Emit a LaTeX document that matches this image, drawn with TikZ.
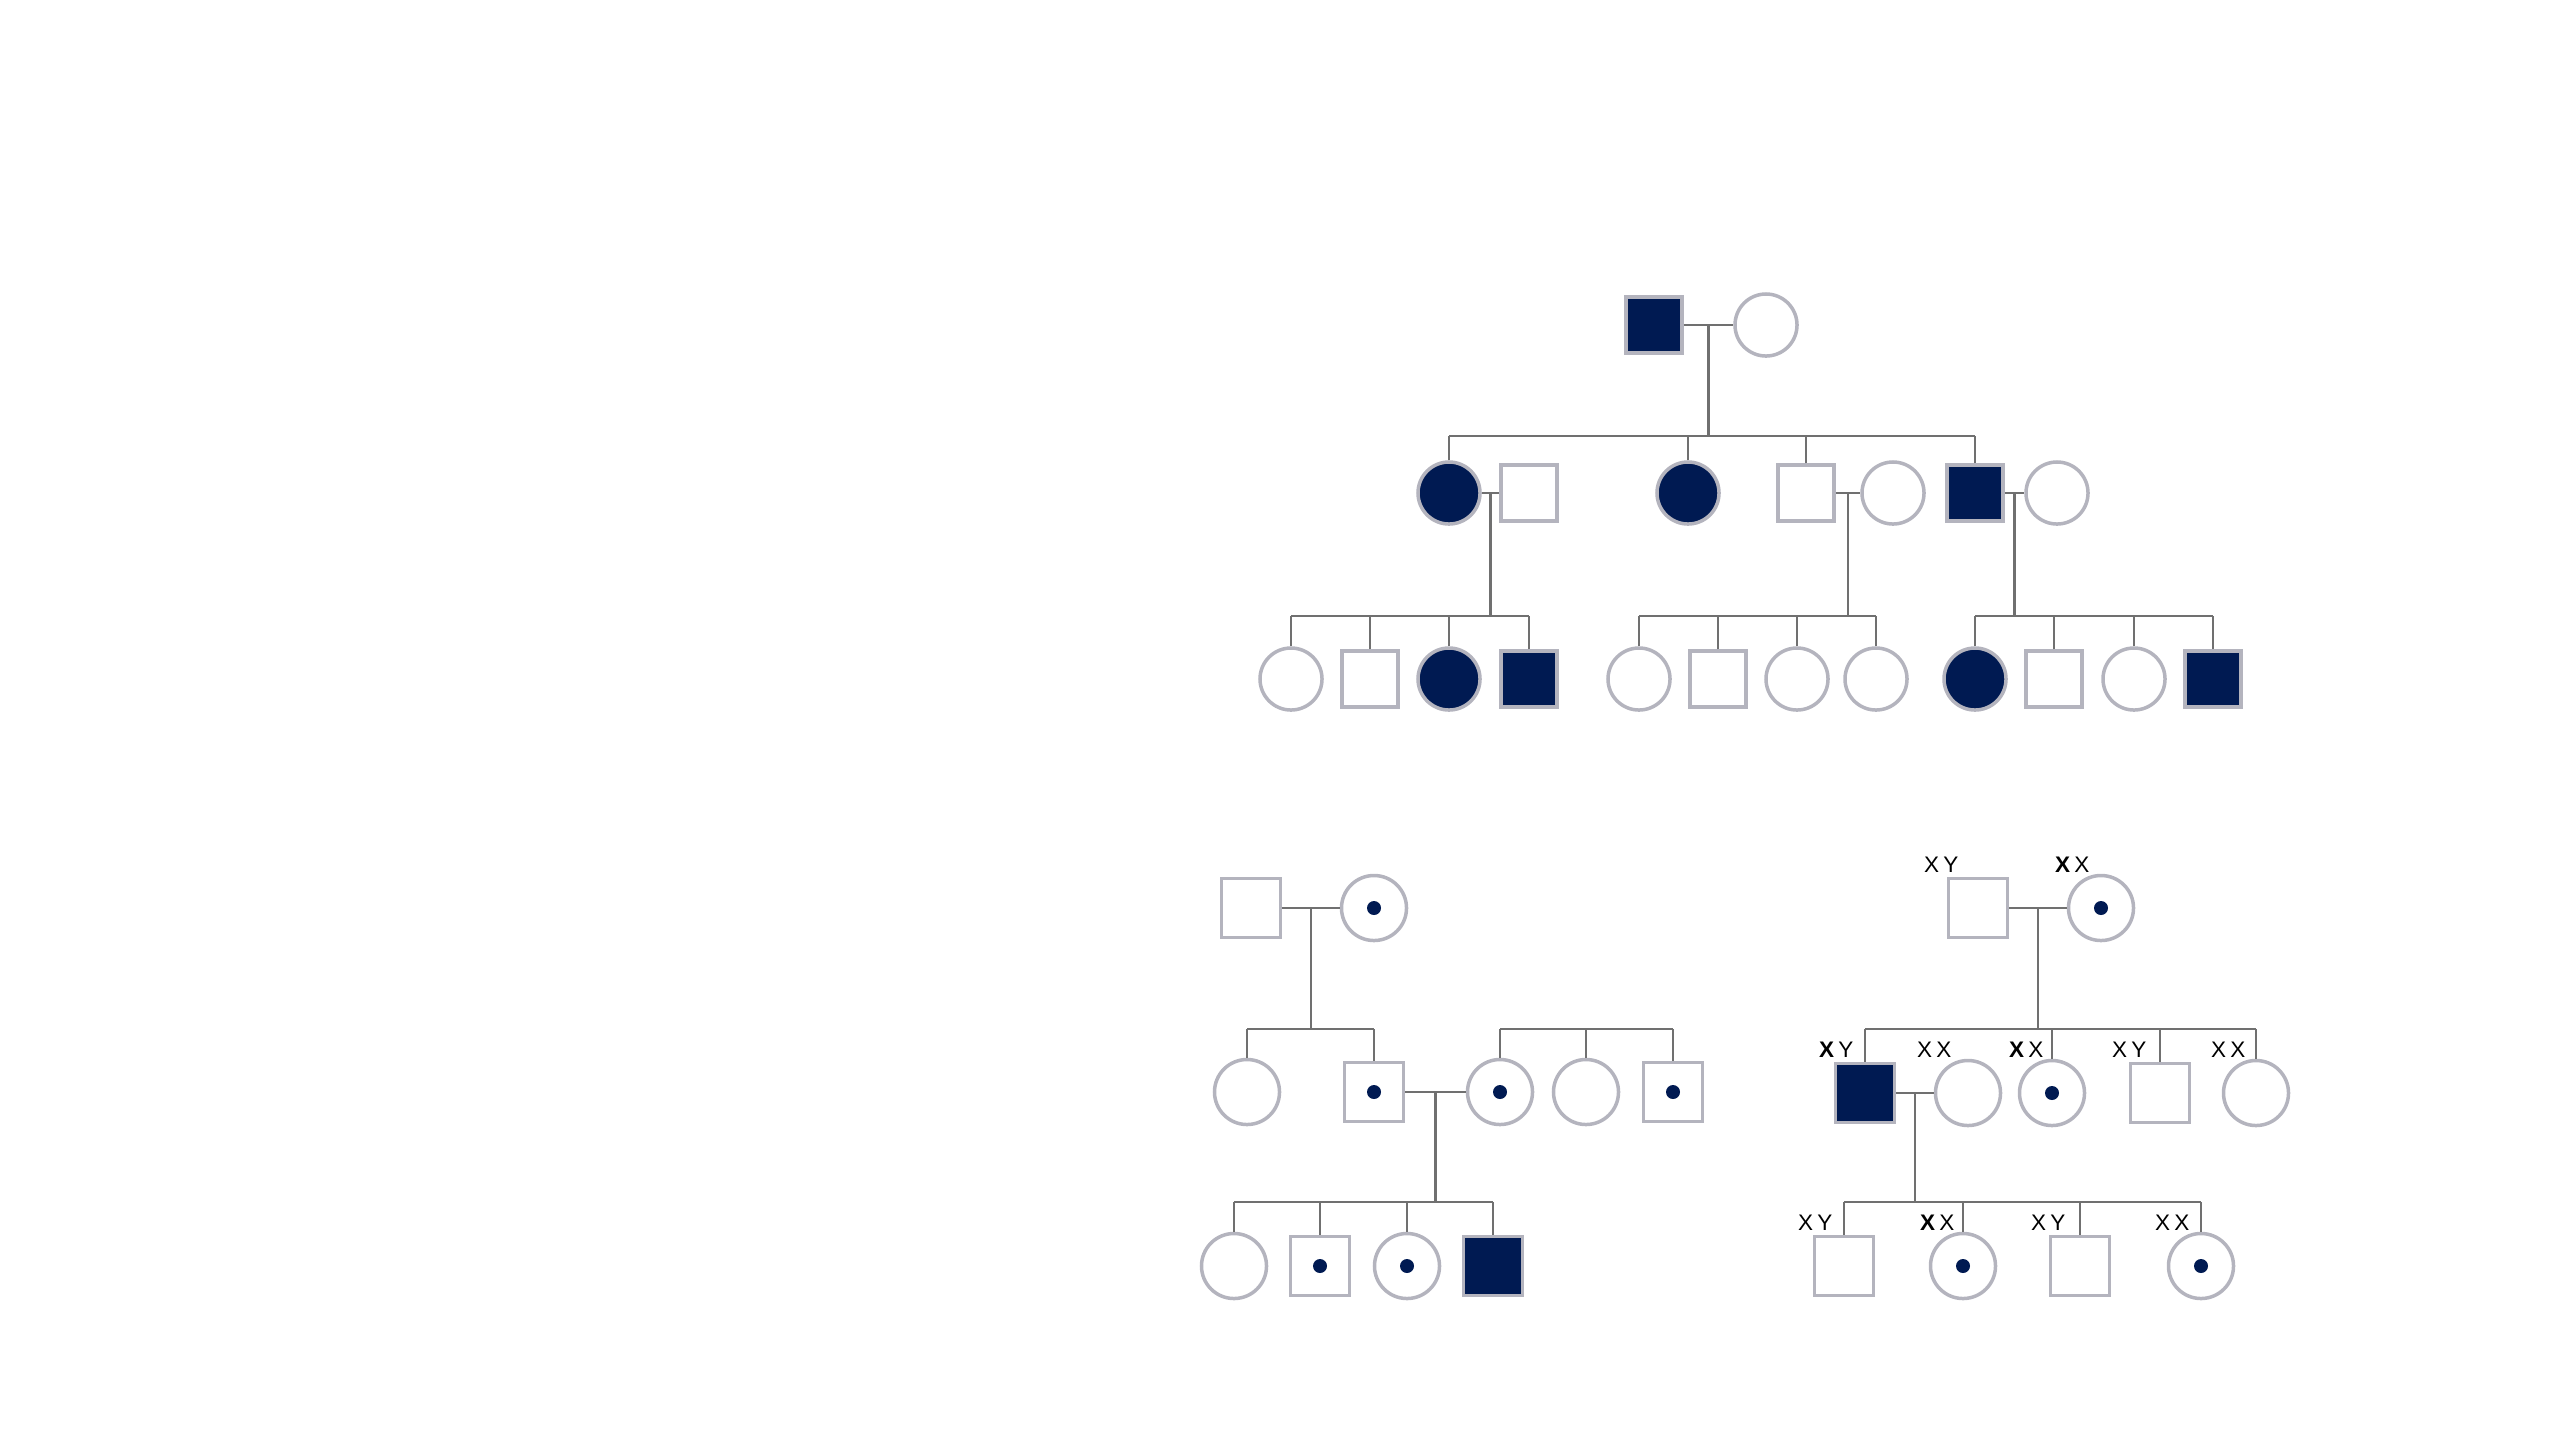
\documentclass[tikz,border=0pt]{standalone}
\usepackage{fontspec}
\setmainfont{Liberation Sans}
\usetikzlibrary{calc}
\definecolor{navy}{RGB}{0,26,82}
\definecolor{outl}{RGB}{180,180,190}
\definecolor{conn}{RGB}{112,112,112}
\begin{document}
\begin{tikzpicture}[x=0.01cm,y=-0.01cm,
 sq/.style={rectangle,draw=outl,line width=0.035cm,fill=white,minimum size=0.56cm,inner sep=0pt},
 ci/.style={circle,draw=outl,line width=0.035cm,fill=white,minimum size=0.62cm,inner sep=0pt},
 bsq/.style={sq,minimum size=0.59cm},
 bci/.style={ci,minimum size=0.65cm},
 aff/.style={fill=navy},
 dotmark/.style={circle,fill=navy,draw=none,inner sep=0pt,minimum size=0.14cm},
 ln/.style={draw=conn,line width=0.6pt},
 gt/.style={anchor=base east,inner sep=0pt,font=\fontsize{6.4}{7}\selectfont}
]
\useasboundingbox (0,0) rectangle (2560,1441);

% ===== Top pedigree =====
\node[sq,aff] (A1) at (1654,325) {};
\node[ci] (A2) at (1766,325) {};
\node[ci,aff] (B1) at (1449,493) {};
\node[sq] (B2) at (1529,493) {};
\node[ci,aff] (B3) at (1688,493) {};
\node[sq] (B4) at (1806,493) {};
\node[ci] (B5) at (1893,493) {};
\node[sq,aff] (B6) at (1975,493) {};
\node[ci] (B7) at (2057,493) {};
\node[ci] (C1) at (1291,679) {};
\node[sq] (C2) at (1370,679) {};
\node[ci,aff] (C3) at (1449,679) {};
\node[sq,aff] (C4) at (1529,679) {};
\node[ci] (C5) at (1639,679) {};
\node[sq] (C6) at (1718,679) {};
\node[ci] (C7) at (1797,679) {};
\node[ci] (C8) at (1876,679) {};
\node[ci,aff] (C9) at (1975,679) {};
\node[sq] (C10) at (2054,679) {};
\node[ci] (C11) at (2134,679) {};
\node[sq,aff] (C12) at (2213,679) {};

\coordinate (yA) at (0,436);
\coordinate (yB) at (0,616);
\draw[ln] (A1.east) -- (A2.west);
\coordinate (mA) at ($(A1.east)!0.5!(A2.west)$);
\draw[ln] (mA) -- (mA |- yA);
\draw[ln] (B1.north |- yA) -- (B6.north |- yA);
\foreach \n in {B1,B3,B4,B6} \draw[ln] (\n.north) -- (\n.north |- yA);

\draw[ln] (B1.east) -- (B2.west);
\coordinate (mB1) at ($(B1.east)!0.5!(B2.west)$);
\draw[ln] (mB1) -- (mB1 |- yB);
\draw[ln] (C1.north |- yB) -- (C4.north |- yB);
\foreach \n in {C1,C2,C3,C4} \draw[ln] (\n.north) -- (\n.north |- yB);

\draw[ln] (B4.east) -- (B5.west);
\coordinate (mB2) at ($(B4.east)!0.5!(B5.west)$);
\draw[ln] (mB2) -- (mB2 |- yB);
\draw[ln] (C5.north |- yB) -- (C8.north |- yB);
\foreach \n in {C5,C6,C7,C8} \draw[ln] (\n.north) -- (\n.north |- yB);

\draw[ln] (B6.east) -- (B7.west);
\coordinate (mB3) at ($(B6.east)!0.5!(B7.west)$);
\draw[ln] (mB3) -- (mB3 |- yB);
\draw[ln] (C9.north |- yB) -- (C12.north |- yB);
\foreach \n in {C9,C10,C11,C12} \draw[ln] (\n.north) -- (\n.north |- yB);

% ===== Bottom-left pedigree =====
\node[bsq] (D1) at (1251,908) {};
\node[bci] (D2) at (1374,908) {};
\node[bci] (E1) at (1247,1092) {};
\node[bsq] (E2) at (1374,1092) {};
\node[bci] (E3) at (1500,1092) {};
\node[bci] (E4) at (1586,1092) {};
\node[bsq] (E5) at (1673,1092) {};
\node[bci] (F1) at (1234,1266) {};
\node[bsq] (F2) at (1320,1266) {};
\node[bci] (F3) at (1407,1266) {};
\node[bsq,aff] (F4) at (1493,1266) {};
\node[dotmark] (dD2) at (D2.center) {};
\node[dotmark] (dE2) at (E2.center) {};
\node[dotmark] (dE3) at (E3.center) {};
\node[dotmark] (dE5) at (E5.center) {};
\node[dotmark] (dF2) at (F2.center) {};
\node[dotmark] (dF3) at (F3.center) {};

\coordinate (yD) at (0,1029);
\coordinate (yE) at (0,1202);
\draw[ln] (D1.east) -- (D2.west);
\coordinate (mD) at ($(D1.east)!0.5!(D2.west)$);
\draw[ln] (mD) -- (mD |- yD);
\draw[ln] (E1.north |- yD) -- (E2.north |- yD);
\foreach \n in {E1,E2} \draw[ln] (\n.north) -- (\n.north |- yD);
\draw[ln] (E3.north |- yD) -- (E5.north |- yD);
\foreach \n in {E3,E4,E5} \draw[ln] (\n.north) -- (\n.north |- yD);
\draw[ln] (E2.east) -- (E3.west);
\coordinate (mE) at ($(E2.east)!0.5!(E3.west)$);
\draw[ln] (mE) -- (mE |- yE);
\draw[ln] (F1.north |- yE) -- (F4.north |- yE);
\foreach \n in {F1,F2,F3,F4} \draw[ln] (\n.north) -- (\n.north |- yE);

% ===== Bottom-right pedigree =====
\node[bsq] (G1) at (1978,908) {};
\node[bci] (G2) at (2101,908) {};
\node[bsq,aff] (H1) at (1865,1093) {};
\node[bci] (H2) at (1968,1093) {};
\node[bci] (H3) at (2052,1093) {};
\node[bsq] (H4) at (2160,1093) {};
\node[bci] (H5) at (2256,1093) {};
\node[bsq] (I1) at (1844,1266) {};
\node[bci] (I2) at (1963,1266) {};
\node[bsq] (I3) at (2080,1266) {};
\node[bci] (I4) at (2201,1266) {};
\node[dotmark] (dG2) at (G2.center) {};
\node[dotmark] (dH3) at (H3.center) {};
\node[dotmark] (dI2) at (I2.center) {};
\node[dotmark] (dI4) at (I4.center) {};

\coordinate (yG) at (0,1029);
\coordinate (yH) at (0,1202);
\draw[ln] (G1.east) -- (G2.west);
\coordinate (mG) at ($(G1.east)!0.5!(G2.west)$);
\draw[ln] (mG) -- (mG |- yG);
\draw[ln] (H1.north |- yG) -- (H5.north |- yG);
\foreach \n in {H1,H3,H4,H5} \draw[ln] (\n.north) -- (\n.north |- yG);
\draw[ln] (H1.east) -- (H2.west);
\coordinate (mH) at ($(H1.east)!0.5!(H2.west)$);
\draw[ln] (mH) -- (mH |- yH);
\draw[ln] (I1.north |- yH) -- (I4.north |- yH);
\foreach \n in {I1,I2,I3,I4} \draw[ln] (\n.north) -- (\n.north |- yH);

% genotype labels
\node[gt] (lG1) at ($(G1.center)+(-19,-36)$) {X\kern1.2pt Y};
\node[gt] (lG2) at ($(G2.center)+(-11,-36)$) {\textbf{X}\kern1.2pt X};
\node[gt] (lH1) at ($(H1.center)+(-11,-36)$) {\textbf{X}\kern1.2pt Y};
\node[gt] (lH2) at ($(H2.center)+(-16,-36)$) {X\kern1.2pt X};
\node[gt] (lH3) at ($(H3.center)+(-8,-36)$) {\textbf{X}\kern1.2pt X};
\node[gt] (lH4) at ($(H4.center)+(-13,-36)$) {X\kern1.2pt Y};
\node[gt] (lH5) at ($(H5.center)+(-10,-36)$) {X\kern1.2pt X};
\node[gt] (lI1) at ($(I1.center)+(-11,-36)$) {X\kern1.2pt Y};
\node[gt] (lI2) at ($(I2.center)+(-8,-36)$) {\textbf{X}\kern1.2pt X};
\node[gt] (lI3) at ($(I3.center)+(-14,-36)$) {X\kern1.2pt Y};
\node[gt] (lI4) at ($(I4.center)+(-11,-36)$) {X\kern1.2pt X};
\end{tikzpicture}
\end{document}
